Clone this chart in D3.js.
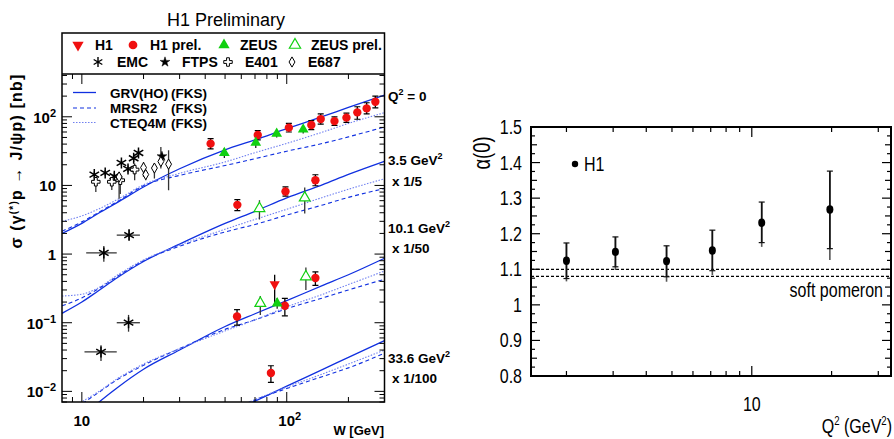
<!DOCTYPE html>
<html>
<head>
<meta charset="utf-8">
<script src="https://cdn.jsdelivr.net/npm/d3@7"></script>
<style>
body{margin:0;background:#fff;}
svg text{font-family:"Liberation Sans",Arial,sans-serif;fill:#000;}
</style>
</head>
<body>
<div id="chart"></div>
<script>
// theory curves (already scaled per Q2 bin)
var wGrid   = [8, 10, 12, 15, 20, 30, 50, 70, 100, 150, 200, 300];
var grvQ0   = [2.0, 2.8, 3.9, 5.7, 9.5, 17.5, 33, 46, 67, 101, 137, 207];
var mrsQ0   = [2.15, 2.95, 4.0, 5.9, 9.9, 14, 19.5, 24.5, 31.5, 41, 51, 71];
var cteqQ0  = [3.0, 3.6, 4.5, 6.3, 10.2, 15, 22, 30, 41, 60, 80, 115];
var grvQ35  = [0.137, 0.2, 0.29, 0.46, 0.78, 1.4, 2.8, 4.2, 6.6, 10.3, 14.5, 22.5];
var mrsQ35  = [0.176, 0.23, 0.31, 0.48, 0.8, 1.3, 2.1, 2.7, 3.7, 5.2, 6.7, 9.0];
var cteqQ35 = [0.245, 0.26, 0.32, 0.5, 0.82, 1.35, 2.3, 3.2, 4.5, 6.7, 8.8, 12.5];
var grvQ10  = [0.0025, 0.0042, 0.0068, 0.0115, 0.021, 0.040, 0.088, 0.135, 0.21, 0.35, 0.50, 0.87];
var mrsQ10  = [0.0035, 0.0065, 0.0095, 0.015, 0.024, 0.042, 0.080, 0.11, 0.16, 0.23, 0.30, 0.43];
var cteqQ10 = [0.004, 0.007, 0.0098, 0.0155, 0.025, 0.042, 0.076, 0.11, 0.17, 0.26, 0.36, 0.566];
var grvQ33  = [null, null, null, null, null, 0.0017, 0.0045, 0.0072, 0.0119, 0.0209, 0.0313, 0.055];
var mrsQ33  = [null, null, null, null, null, 0.0019, 0.0048, 0.0075, 0.011, 0.0165, 0.022, 0.036];
var cteqQ33 = [null, null, null, null, null, 0.0019, 0.0048, 0.0076, 0.0115, 0.018, 0.025, 0.040];

// data points: [W, sigma, low, high]
var h1Prel = [[42.5,40.6,34,48],[72.2,54.2,46,63],[102.4,69.5,60,80],[131.8,75.8,65,88],[146.5,92.6,78,110],
  [171,86.5,75,100],[195.6,97.1,83,113],[221,115.9,92,140],[245.5,132.5,110,160],[270.7,165.7,135,200],
  [57.4,5.21,4.3,6.2],[98.6,8.15,7.0,9.5],[138,11.9,9.9,14.3],
  [57.2,0.123,0.092,0.155],[97.9,0.177,0.126,0.227],[138,0.448,0.35,0.55],
  [83.7,0.0185,0.0135,0.0236]];
var h1 = [[87.3,0.363,0.19,0.50]];
var zeus = [[49.6,29.7,25,35],[70.6,42.0,35,48],[89.3,56.8,50,64],[120.3,65.6,57,74],[89.8,0.192,0.16,0.23]];
var zeusPrel = [[73.6,4.62,3.2,6.1],[122.4,6.59,3.9,9.3],[74.3,0.192,0.13,0.245],[124,0.468,0.30,0.64]];
var emc = [[11.5,14.4,12.8,16.0],[13.0,15.2,13.8,16.8],[14.4,13.6,11.9,15.6],[15.6,21.3,19.3,23.5],
  [16.8,17.4,15.6,19.5],[17.9,24.9,22.0,28.0],[18.9,29.7,26.5,33.0]];
// [W, sigma, low, high, Wlow, Whigh]
var emcQ2 = [[12.8,1.04,0.77,1.31,10.5,14.8],[17.0,1.89,1.56,2.29,14.8,19.2],
  [16.9,0.100,0.074,0.13,14.8,19.2],[12.4,0.0376,0.0277,0.047,10.3,14.8]];
var ftps = [[24.6,26.5,23.5,30]];
var e401 = [[11.7,11.3,8.0,13.3],[14.0,11.3,8.6,13.3],[15.4,11.9,7.5,14.5],[18.1,17.0,11.9,20.8]];
var e687 = [[15.2,13.3,6.4,15.7],[20.0,18.2,13.3,21.9],[20.5,14.4,11.9,16.6],[22.6,17.9,12.6,20.8],
  [24.3,22.3,17.6,36.3],[26.5,20.4,8.5,32.5]];

// right panel: alpha(0) vs Q2
var q2Vals    = [2.0, 3.06, 4.77, 7.1, 10.9, 19.7];
var alphaVals = [1.124, 1.149, 1.123, 1.153, 1.231, 1.268];
var alphaHi   = [1.174, 1.191, 1.166, 1.210, 1.289, 1.376];
var alphaLo   = [1.074, 1.107, 1.079, 1.096, 1.175, 1.158];
var alphaTot  = [1.066, 1.098, 1.065, 1.084, 1.163, 1.126];
var pomeron   = [1.08, 1.10];

var yTickLabelsL = [[100,"10","2"],[10,"10",""],[1,"1",""],[0.1,"10","\u22121"],[0.01,"10","\u22122"]];
var alphaTicks = [0.8,0.9,1,1.1,1.2,1.3,1.4,1.5];

var svg = d3.select("#chart").append("svg").attr("width",894).attr("height",439);

// ---------- left panel ----------
var x = d3.scaleLog().domain([8,300]).range([62,384.5]);
var y = d3.scaleLog().domain([0.007,420]).range([402,74]);
var blue = "#1030e0";

svg.append("text").attr("x",226).attr("y",26).attr("text-anchor","middle")
  .style("font-size","18px").text("H1 Preliminary");

svg.append("defs").append("clipPath").attr("id","clipL").append("rect")
  .attr("x",62).attr("y",74).attr("width",322.5).attr("height",328);

var curves = [
  [grvQ0,"solid"],[mrsQ0,"dash"],[cteqQ0,"dot"],
  [grvQ35,"solid"],[mrsQ35,"dash"],[cteqQ35,"dot"],
  [grvQ10,"solid"],[mrsQ10,"dash"],[cteqQ10,"dot"],
  [grvQ33,"solid"],[mrsQ33,"dash"],[cteqQ33,"dot"]
];
var line = d3.line().defined(function(d){return d[1]!=null;})
  .x(function(d){return x(d[0]);}).y(function(d){return y(d[1]);}).curve(d3.curveMonotoneX);
var gc = svg.append("g").attr("clip-path","url(#clipL)");
curves.forEach(function(c){
  var pts = wGrid.map(function(w,i){return [w,c[0][i]];});
  var p = gc.append("path").attr("d",line(pts)).attr("fill","none");
  styleLine(p,c[1]);
});
function styleLine(p,kind){
  if(kind=="solid") p.attr("stroke",blue).attr("stroke-width",1.3);
  else if(kind=="dash") p.attr("stroke",blue).attr("stroke-width",1.1).attr("stroke-dasharray","4,3");
  else p.attr("stroke","#7080f0").attr("stroke-width",1.1).attr("stroke-dasharray","1.5,1.5");
}

// error bars and markers
function errBars(data,color,caps){
  var g = svg.append("g").attr("clip-path","url(#clipL)");
  data.forEach(function(d){
    g.append("line").attr("x1",x(d[0])).attr("x2",x(d[0])).attr("y1",y(d[2])).attr("y2",y(d[3]))
      .attr("stroke",color).attr("stroke-width",1.3);
    if(caps){
      [d[2],d[3]].forEach(function(v){
        g.append("line").attr("x1",x(d[0])-3).attr("x2",x(d[0])+3).attr("y1",y(v)).attr("y2",y(v))
          .attr("stroke",color).attr("stroke-width",1.2);
      });
    }
    if(d.length>4){
      g.append("line").attr("x1",x(d[4])).attr("x2",x(d[5])).attr("y1",y(d[1])).attr("y2",y(d[1]))
        .attr("stroke",color).attr("stroke-width",1.3);
    }
  });
}
function marker(g,type,size,fill,stroke,sw,rot){
  return g.append("path").attr("d",d3.symbol().type(type).size(size)())
    .attr("fill",fill).attr("stroke",stroke).attr("stroke-width",sw||0)
    .attr("transform",function(){return "rotate("+(rot||0)+")";});
}
function points(data,type,size,fill,stroke,sw,rot){
  data.forEach(function(d){
    var g = svg.append("g").attr("transform","translate("+x(d[0])+","+y(d[1])+")");
    marker(g,type,size,fill,stroke,sw,rot);
  });
}
var red = "#f01010", green = "#10d010";
var grey = "#333";
errBars(emc,grey,false); errBars(emcQ2,grey,false); errBars(ftps,grey,false);
errBars(e401,grey,false); errBars(e687,grey,false);
errBars(h1Prel,"#000",true); errBars(h1,"#000",false);
errBars(zeus,"#222",false); errBars(zeusPrel,"#333",false);

points(emc,d3.symbolAsterisk,85,"none","#000",1.5);
points(emcQ2,d3.symbolAsterisk,85,"none","#000",1.5);
points(ftps,d3.symbolStar,30,"#000","#000",0.5);
points(e401,d3.symbolCross,40,"#fff","#000",1);
points(e687,d3.symbolDiamond,30,"#fff","#000",1);
points(h1Prel,d3.symbolCircle,55,red,"none");
points(h1,d3.symbolTriangle,45,red,"none",0,180);
points(zeus,d3.symbolTriangle,50,green,"none");
points(zeusPrel,d3.symbolTriangle,50,"#fff",green,1.2);

// frame and legend box
svg.append("rect").attr("x",62).attr("y",33).attr("width",322.5).attr("height",369)
  .attr("fill","none").attr("stroke","#000").attr("stroke-width",1.5);
svg.append("line").attr("x1",62).attr("x2",384.5).attr("y1",74).attr("y2",74)
  .attr("stroke","#000").attr("stroke-width",1.5);

var legRows = [
  [[78,45,d3.symbolTriangle,55,red,"none",0,180,"H1",95],
   [133,45,d3.symbolCircle,60,red,"none",0,0,"H1 prel.",150],
   [224,45,d3.symbolTriangle,55,green,"none",0,0,"ZEUS",240],
   [295,45,d3.symbolTriangle,55,"#fff",green,1.2,0,"ZEUS prel.",311]],
  [[98,62,d3.symbolAsterisk,70,"none","#000",1.4,0,"EMC",117],
   [165,62,d3.symbolStar,30,"#000","#000",0.5,0,"FTPS",182],
   [228,62,d3.symbolCross,40,"#fff","#000",1,0,"E401",245],
   [292,62,d3.symbolDiamond,30,"#fff","#000",1,0,"E687",308]]
];
legRows.forEach(function(row){
  row.forEach(function(e){
    var g = svg.append("g").attr("transform","translate("+e[0]+","+e[1]+")");
    marker(g,e[2],e[3],e[4],e[5],e[6],e[7]);
    svg.append("text").attr("x",e[9]).attr("y",e[1]+5).style("font-size","14px")
      .style("font-weight","bold").text(e[8]);
  });
});

// inner legend for curves
[["solid",92.5,"GRV(HO)"],["dash",108,"MRSR2"],["dot",122.5,"CTEQ4M"]].forEach(function(e){
  styleLine(svg.append("line").attr("x1",73).attr("x2",96).attr("y1",e[1]).attr("y2",e[1]),e[0]);
  svg.append("text").attr("x",110).attr("y",e[1]+5).style("font-size","13.5px").style("font-weight","bold").text(e[2]);
  svg.append("text").attr("x",171).attr("y",e[1]+5).style("font-size","13.5px").style("font-weight","bold").text("(FKS)");
});

// ticks, left panel
var tickG = svg.append("g").attr("stroke","#000").attr("stroke-width",1);
var xMinor = [9,20,30,40,50,60,70,80,90,200];
var xMajor = [10,100];
xMinor.concat(xMajor).forEach(function(v){
  var len = xMajor.indexOf(v)>=0 ? 10 : 5;
  tickG.append("line").attr("x1",x(v)).attr("x2",x(v)).attr("y1",402).attr("y2",402-len);
  tickG.append("line").attr("x1",x(v)).attr("x2",x(v)).attr("y1",74).attr("y2",74+len);
});
for(var e=-3;e<=2;e++){
  for(var m=1;m<10;m++){
    var v = m*Math.pow(10,e);
    if(v<0.007||v>420) continue;
    var len = m==1 ? 10 : 5;
    tickG.append("line").attr("x1",62).attr("x2",62+len).attr("y1",y(v)).attr("y2",y(v));
    tickG.append("line").attr("x1",384.5).attr("x2",384.5-len).attr("y1",y(v)).attr("y2",y(v));
  }
}
yTickLabelsL.forEach(function(t){
  var tx = svg.append("text").attr("x",56).attr("y",y(t[0])+6).attr("text-anchor","end")
    .style("font-size","15px").style("font-weight","bold");
  tx.append("tspan").text(t[1]);
  if(t[2]) tx.append("tspan").attr("dy",-6).style("font-size","11px").text(t[2]);
});
svg.append("text").attr("x",x(10)).attr("y",426).attr("text-anchor","middle")
  .style("font-size","15px").style("font-weight","bold").text("10");
var t100 = svg.append("text").attr("x",x(100)+3).attr("y",426).attr("text-anchor","middle")
  .style("font-size","15px").style("font-weight","bold");
t100.append("tspan").text("10");
t100.append("tspan").attr("dy",-6).style("font-size","11px").text("2");
svg.append("text").attr("x",384).attr("y",435).attr("text-anchor","end")
  .style("font-size","13px").style("font-weight","bold").text("W [GeV]");

// y label
var yl = svg.append("text").attr("transform","translate(22,161) rotate(-90)").attr("text-anchor","middle")
  .style("font-size","16px").style("font-weight","bold").style("letter-spacing","1.2px");
yl.append("tspan").text("\u03c3 (\u03b3");
yl.append("tspan").attr("dy",-5).style("font-size","10px").text("(*)");
yl.append("tspan").attr("dy",5).text("p \u2192 J/\u03c8p)  [nb]");

// bin labels at right
var binLabels = [[101,"Q","2"," = 0"],[165,"3.5 GeV","2",""],[186,"x 1/5","",""],
  [233,"10.1 GeV","2",""],[253,"x 1/50","",""],[363,"33.6 GeV","2",""],[383,"x 1/100","",""]];
binLabels.forEach(function(b){
  var tx = svg.append("text").attr("x",b[1].indexOf("x ")==0?392:388).attr("y",b[0])
    .style("font-size","13.5px").style("font-weight","bold");
  tx.append("tspan").text(b[1]);
  if(b[2]) tx.append("tspan").attr("dy",-6).style("font-size","9px").text(b[2]);
  if(b[3]) tx.append("tspan").attr("dy",6).text(b[3]);
});

// ---------- right panel ----------
var x2 = d3.scaleLog().domain([1.47,33.5]).range([531,891]);
var y2 = d3.scaleLinear().domain([0.8,1.5]).range([376,127]);

// condensed text: squeeze horizontally
function narrow(px,py,anchor,size,rot){
  var g = svg.append("g").attr("transform","translate("+px+","+py+")"+(rot?" rotate("+rot+")":"")+" scale(0.8,1)");
  return g.append("text").attr("text-anchor",anchor).style("font-size",size+"px");
}

svg.append("rect").attr("x",531).attr("y",127).attr("width",360).attr("height",249)
  .attr("fill","none").attr("stroke","#000").attr("stroke-width",2);

pomeron.forEach(function(p){
  svg.append("line").attr("x1",531).attr("x2",891).attr("y1",y2(p)).attr("y2",y2(p))
    .attr("stroke","#000").attr("stroke-width",1.2).attr("stroke-dasharray","3,2");
});

var tick2 = svg.append("g").attr("stroke","#000").attr("stroke-width",1.2);
var q2Ticks = [2,3,4,5,6,7,8,9,10,20,30];
q2Ticks.forEach(function(v){
  var len = v==10 ? 10 : 5;
  tick2.append("line").attr("x1",x2(v)).attr("x2",x2(v)).attr("y1",376).attr("y2",376-len);
  tick2.append("line").attr("x1",x2(v)).attr("x2",x2(v)).attr("y1",127).attr("y2",127+len);
});
d3.range(0,29).forEach(function(i){
  var v = 0.8 + i*0.025;
  var len = i%4==0 ? 9 : (i%2==0 ? 6 : 4);
  tick2.append("line").attr("x1",531).attr("x2",531+len).attr("y1",y2(v)).attr("y2",y2(v));
  tick2.append("line").attr("x1",891).attr("x2",891-len).attr("y1",y2(v)).attr("y2",y2(v));
});
alphaTicks.forEach(function(v){
  narrow(522,y2(v)+7,"end",20).text(d3.format(".1~f")(v));
});
narrow(x2(10),411,"middle",20).text("10");
var ql = narrow(892,433,"end",20);
ql.append("tspan").text("Q");
ql.append("tspan").attr("dy",-8).style("font-size","12px").text("2");
ql.append("tspan").attr("dy",8).text(" (GeV");
ql.append("tspan").attr("dy",-8).style("font-size","12px").text("2");
ql.append("tspan").attr("dy",8).text(")");

narrow(490,153,"middle",23,-90).text("\u03b1(0)");

svg.append("circle").attr("cx",575).attr("cy",164).attr("r",3.2).attr("fill","#000");
narrow(584,171,"start",20).text("H1");
narrow(883,297,"start",20).attr("text-anchor","end").text("soft pomeron");

var ap = svg.append("g");
q2Vals.forEach(function(q,i){
  var cx = x2(q);
  ap.append("line").attr("x1",cx).attr("x2",cx).attr("y1",y2(alphaTot[i])).attr("y2",y2(alphaHi[i]))
    .attr("stroke","#555").attr("stroke-width",1.6);
  ap.append("line").attr("x1",cx).attr("x2",cx).attr("y1",y2(alphaLo[i])).attr("y2",y2(alphaHi[i]))
    .attr("stroke","#111").attr("stroke-width",1.6);
  [alphaLo[i],alphaHi[i]].forEach(function(v){
    ap.append("line").attr("x1",cx-3).attr("x2",cx+3).attr("y1",y2(v)).attr("y2",y2(v))
      .attr("stroke","#111").attr("stroke-width",1.2);
  });
  ap.append("ellipse").attr("cx",cx).attr("cy",y2(alphaVals[i])).attr("rx",3.5).attr("ry",4.2).attr("fill","#000");
});
</script>
</body>
</html>
